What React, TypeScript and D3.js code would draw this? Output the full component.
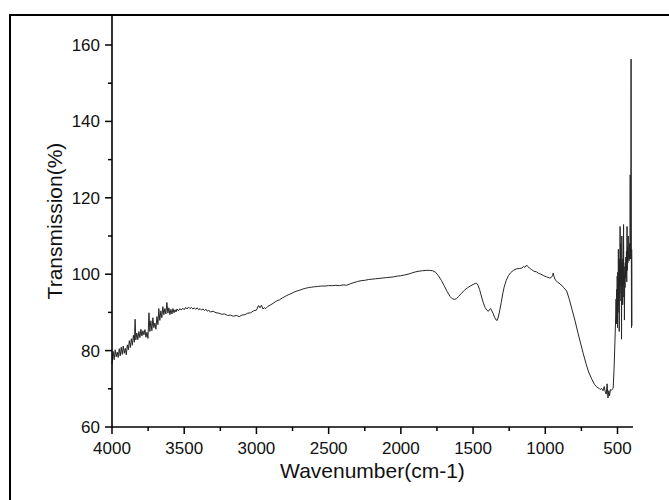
import React from "react";
import * as d3 from "d3";

// FTIR spectrum, [wavenumber (cm-1), transmission (%)] pairs, high to low wavenumber
const ohStretchRegion: [number, number][] = [
  [4000, 76.5], [3992, 79.8], [3985, 77.6], [3978, 80.2], [3971, 78.4], [3964, 79.6],
  [3957, 78.2], [3950, 80.5], [3943, 78.6], [3936, 80.9], [3929, 79.0], [3922, 81.2],
  [3915, 79.3], [3908, 80.6], [3901, 78.9], [3894, 81.5], [3887, 80.2], [3880, 82.6],
  [3873, 80.8], [3866, 83.1], [3859, 81.4], [3852, 84.0], [3845, 82.2], [3840, 88.2],
  [3835, 82.8], [3828, 84.6], [3821, 82.9], [3814, 85.0], [3807, 83.4], [3800, 85.6],
  [3793, 83.8], [3786, 85.2], [3779, 84.1], [3772, 85.5], [3765, 83.5], [3758, 84.8],
  [3751, 83.2], [3744, 89.9], [3738, 85.0], [3731, 87.8], [3724, 85.2], [3717, 88.6],
  [3710, 86.0], [3703, 87.2], [3696, 85.6], [3689, 88.9], [3682, 86.8], [3676, 91.0],
  [3669, 87.9], [3662, 90.4], [3655, 88.6], [3648, 91.5], [3641, 89.4], [3634, 91.0],
  [3627, 89.6], [3620, 92.6], [3613, 89.8], [3606, 91.2], [3599, 89.4], [3592, 90.8],
  [3585, 89.6], [3578, 91.0], [3571, 89.9], [3564, 90.7], [3557, 90.1], [3550, 90.9],
  [3540, 90.4], [3530, 91.0], [3520, 90.6], [3510, 91.1], [3500, 90.7], [3490, 91.3],
  [3480, 90.9], [3470, 91.4], [3460, 91.0], [3450, 91.3], [3440, 90.9], [3430, 91.2],
  [3420, 90.8], [3410, 91.2], [3400, 90.7], [3390, 91.0], [3380, 90.6], [3370, 90.9],
  [3360, 90.5], [3350, 90.8], [3340, 90.3], [3330, 90.6], [3320, 90.1],
];

const midRegion: [number, number][] = [
  [3300, 90.3], [3280, 89.9], [3260, 89.8], [3240, 89.5], [3220, 89.6], [3200, 89.2],
  [3180, 89.3], [3160, 89.0], [3140, 89.2], [3120, 88.9], [3100, 89.3], [3080, 89.4],
  [3060, 89.8], [3040, 89.9], [3020, 90.4], [3000, 90.6], [2985, 91.8], [2975, 91.2],
  [2965, 91.9], [2955, 90.9], [2945, 91.2], [2935, 91.0], [2920, 91.6], [2900, 92.0],
  [2880, 92.5], [2860, 93.0], [2840, 93.3], [2820, 93.8], [2800, 94.2], [2780, 94.6],
  [2760, 94.9], [2740, 95.3], [2720, 95.6], [2700, 95.8], [2680, 96.1], [2660, 96.3],
  [2640, 96.5], [2620, 96.6], [2600, 96.7], [2575, 96.8], [2550, 96.9], [2525, 96.9],
  [2500, 97.0], [2475, 97.0], [2450, 97.1], [2425, 97.0], [2400, 97.2], [2375, 97.1],
  [2350, 97.5], [2325, 97.8], [2300, 98.1], [2275, 98.3], [2250, 98.4], [2225, 98.6],
  [2200, 98.7], [2175, 98.8], [2150, 98.9], [2125, 99.0], [2100, 99.1], [2075, 99.2],
  [2050, 99.3], [2025, 99.5], [2000, 99.6], [1975, 99.8], [1950, 100.0], [1925, 100.3],
  [1900, 100.6], [1875, 100.8], [1850, 100.9], [1825, 101.0], [1800, 101.0],
];

const fingerprintRegion: [number, number][] = [
  [1780, 100.9], [1760, 100.5], [1740, 99.6], [1720, 98.4], [1700, 97.0], [1680, 95.5],
  [1660, 94.2], [1645, 93.6], [1630, 93.4], [1615, 93.6], [1600, 94.2], [1580, 95.0],
  [1560, 95.8], [1540, 96.4], [1520, 96.9], [1500, 97.3], [1485, 97.6], [1475, 97.6],
  [1465, 97.0], [1455, 96.0], [1445, 94.6], [1430, 92.6], [1417, 91.3], [1405, 90.6],
  [1394, 90.3], [1385, 90.8], [1378, 91.0], [1370, 90.4], [1360, 89.6], [1350, 88.6],
  [1340, 88.0], [1333, 87.9], [1325, 88.8], [1315, 90.6], [1305, 92.6], [1295, 94.8],
  [1285, 96.6], [1270, 98.4], [1255, 99.6], [1240, 100.4], [1221, 101.0], [1200, 101.4],
  [1180, 101.5], [1163, 101.6], [1150, 102.0], [1140, 101.8], [1129, 102.4], [1120, 102.0],
  [1110, 101.6], [1095, 101.2], [1080, 100.8], [1060, 100.6], [1045, 100.2], [1030, 100.0],
  [1010, 99.6], [991, 99.3], [970, 99.0], [960, 99.1], [950, 99.6], [945, 100.3],
  [940, 99.4], [930, 98.5], [915, 97.9], [898, 97.5], [875, 96.6], [852, 95.6],
  [835, 93.6], [815, 90.8], [794, 87.8], [775, 84.8], [756, 82.0], [737, 79.2],
  [718, 76.6], [700, 74.4], [679, 72.6], [660, 71.2], [644, 70.5], [630, 70.2],
  [620, 69.8], [610, 70.1], [600, 69.5], [592, 70.6], [585, 69.2], [578, 68.6],
  [572, 71.3], [566, 67.6], [560, 69.5], [555, 68.2], [549, 69.8], [543, 69.6],
  [537, 69.9], [530, 70.1], [524, 75.0], [518, 82.0], [512, 89.5],
];

const farRegion: [number, number][] = [
  [510, 93.5], [508, 87.0], [506, 96.0], [504, 88.5], [502, 99.5], [500, 86.0],
  [498, 100.5], [496, 90.0], [494, 106.5], [492, 92.0], [490, 101.0], [488, 85.0],
  [486, 104.0], [484, 95.0], [482, 112.5], [480, 97.0], [478, 108.0], [476, 93.0],
  [474, 103.0], [472, 83.0], [470, 110.0], [468, 96.0], [466, 104.0], [464, 92.0],
  [462, 101.0], [460, 97.0], [458, 113.0], [456, 94.0], [454, 102.0], [452, 88.0],
  [450, 100.0], [448, 96.5], [446, 103.0], [444, 99.0], [442, 104.5], [440, 100.0],
  [438, 106.0], [436, 98.0], [434, 112.5], [432, 101.0], [430, 107.0], [428, 103.0],
  [426, 110.0], [424, 104.0], [422, 105.0], [420, 103.5], [417, 108.0], [414, 104.0],
  [412, 126.0], [410, 104.0], [408, 106.0], [406, 156.3], [404, 103.0], [403, 86.0],
  [402, 106.5], [401, 101.0], [400, 86.5],
];

const xMajorTicks = [4000, 3500, 3000, 2500, 2000, 1500, 1000, 500];
const xMinorTicks = [3750, 3250, 2750, 2250, 1750, 1250, 750];
const yMajorTicks = [60, 80, 100, 120, 140, 160];
const yMinorTicks = [70, 90, 110, 130, 150];

const FONT = "'Liberation Sans', Arial, sans-serif";

export default function App() {
  const width = 669;
  const height = 500;

  const x = d3.scaleLinear().domain([4000, 500]).range([112, 617.5]);
  const y = d3.scaleLinear().domain([60, 160]).range([427, 45]);
  const xEnd = x(393);
  const yTop = 15;

  const spectrum = [...ohStretchRegion, ...midRegion, ...fingerprintRegion, ...farRegion];
  const line = d3
    .line<[number, number]>()
    .x((d) => x(d[0]))
    .y((d) => y(d[1]));

  const x0 = x(4000);
  const y0 = y(60);

  return (
    <svg
      width={width}
      height={height}
      style={{ position: "absolute", left: 0, top: 0, background: "#fff" }}
    >
      {/* outer frame */}
      <rect x={10} y={15} width={700} height={520} fill="none" stroke="#000" strokeWidth={2} />

      {/* spectrum */}
      <path d={line(spectrum) || ""} fill="none" stroke="#262626" strokeWidth={1} strokeLinejoin="round" />

      {/* axes */}
      <line x1={x0} x2={x0} y1={yTop} y2={y0} stroke="#000" strokeWidth={1.6} />
      <line x1={x0} x2={xEnd} y1={y0} y2={y0} stroke="#000" strokeWidth={1.6} />

      {xMajorTicks.map((t) => (
        <g key={`xM${t}`}>
          <line x1={x(t)} x2={x(t)} y1={y0} y2={y0 + 7} stroke="#000" strokeWidth={1.5} />
          <text x={x(t)} y={454} textAnchor="middle" fontFamily={FONT} fontSize={17} fill="#111">
            {t}
          </text>
        </g>
      ))}
      {xMinorTicks.map((t) => (
        <line key={`xm${t}`} x1={x(t)} x2={x(t)} y1={y0} y2={y0 + 4} stroke="#000" strokeWidth={1.5} />
      ))}

      {yMajorTicks.map((t) => (
        <g key={`yM${t}`}>
          <line x1={x0 - 7} x2={x0} y1={y(t)} y2={y(t)} stroke="#000" strokeWidth={1.5} />
          <text x={100} y={y(t) + 6} textAnchor="end" fontFamily={FONT} fontSize={17} fill="#111">
            {t}
          </text>
        </g>
      ))}
      {yMinorTicks.map((t) => (
        <line key={`ym${t}`} x1={x0 - 4} x2={x0} y1={y(t)} y2={y(t)} stroke="#000" strokeWidth={1.5} />
      ))}

      {/* axis titles */}
      <text
        x={(x0 + xEnd) / 2}
        y={478}
        textAnchor="middle"
        fontFamily={FONT}
        fontSize={21}
        fill="#111"
      >
        Wavenumber(cm-1)
      </text>
      <text
        transform={`translate(62, ${(yTop + y0) / 2}) rotate(-90)`}
        textAnchor="middle"
        fontFamily={FONT}
        fontSize={21}
        fill="#111"
      >
        Transmission(%)
      </text>
    </svg>
  );
}
